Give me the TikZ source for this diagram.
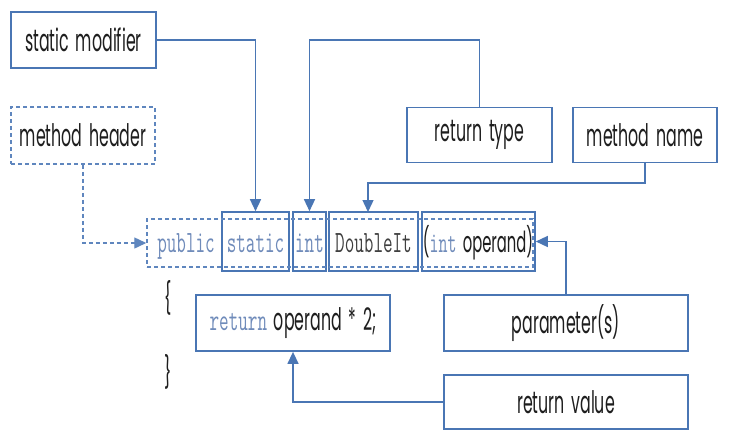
\documentclass[tikz,border=0pt]{standalone}
\usepackage{fontspec}
\setmainfont[FakeStretch=0.51,WordSpace=1.6]{Poppins}
\newfontfamily\codefont[FakeStretch=0.6]{Latin Modern Mono}
\usetikzlibrary{arrows.meta}
\definecolor{lineblue}{HTML}{4A76B4}
\definecolor{dashblue}{HTML}{5F86BE}
\definecolor{kwblue}{HTML}{6F8BBA}
\definecolor{txt}{HTML}{1E1E1E}
\newcommand{\kw}[1]{{\codefont\color{kwblue}#1}}
\begin{document}
\begin{tikzpicture}[x=1pt,y=-1pt,
  lbl/.style={draw=lineblue, line width=1.8pt, fill=white, inner sep=0pt, text=txt,
    font=\fontsize{31}{33}\selectfont},
  dlbl/.style={lbl, draw=dashblue, line width=1.5pt, dash pattern=on 4pt off 3pt},
  codebox/.style={draw=lineblue, line width=1.6pt, inner sep=0pt},
  hdrbox/.style={draw=dashblue, line width=1.5pt, dash pattern=on 4pt off 3pt, inner sep=0pt},
  code/.style={inner sep=0pt, font=\fontsize{31}{33}\selectfont, text=txt},
  conn/.style={draw=lineblue, line width=1.4pt},
  tip/.style={-{Triangle[length=12pt,width=11pt]}}
]
\useasboundingbox (0,0) rectangle (731,442);
\fill[white] (0,0) rectangle (731,442);

% label boxes
\node[lbl, minimum width=145pt, minimum height=56pt] (sm) at (83.5,40) {static modifier};
\node[dlbl, minimum width=144pt, minimum height=57pt] (mh) at (83,135.5) {method header};
\node[lbl, minimum width=145pt, minimum height=55pt] (rt) at (479.5,135) {return type};
\node[lbl, minimum width=144pt, minimum height=55pt] (mn) at (645,135) {method name};
\node[lbl, minimum width=194pt, minimum height=56pt] (ret) at (293,323) {\kw{return} operand * 2;};
\node[lbl, minimum width=244pt, minimum height=56pt] (par) at (566,323) {parameter(s)};
\node[lbl, minimum width=244pt, minimum height=54pt] (rv) at (566,402) {return value};

% header row
\node[codebox, minimum width=67pt, minimum height=59pt] (bstatic) at (255.5,241.5) {};
\node[codebox, minimum width=33pt, minimum height=59pt] (bint) at (309.5,241.5) {};
\node[codebox, minimum width=89pt, minimum height=59pt] (bname) at (373.5,241.5) {};
\node[codebox, minimum width=113pt, minimum height=59pt] (bparam) at (478.5,241.5) {};
\node[hdrbox, minimum width=386pt, minimum height=48pt] (hdr) at (340,243) {};

\node[code, anchor=base] (tpublic) at (186,252) {\kw{public}};
\node[code, anchor=base] (tstatic) at (255.5,252) {\kw{static}};
\node[code, anchor=base] (tint) at (309.5,252) {\kw{int}};
\node[code, anchor=base] (tname) at (373.5,252) {{\codefont\color{txt!85}DoubleIt}};
\node[code, anchor=base, font=\fontsize{29}{31}\selectfont] (tparam) at (478,252) {(\kw{int} operand)};

% braces
\node[code] (lb) at (168,298) {\{};
\node[code] (rb) at (168,372) {\}};

% connectors
\draw[conn, tip] (sm.east) -| (bstatic.north);
\draw[conn, tip] (rt.north) -- (rt.north |- sm.east) -| (bint.north);
\coordinate (mnj) at (368,183);
\coordinate (mnt) at (368,212);
\draw[conn, tip] (mn.south) |- (mnj) -- (mnt);
\draw[conn, draw=dashblue, dash pattern=on 4pt off 3pt, -{Triangle[length=12pt,width=11pt]}] (mh.south) |- (hdr.west);
\draw[conn, tip] (par.north) |- (bparam.east);
\draw[conn, tip] (rv.west) -| (ret.south);
\end{tikzpicture}
\end{document}
